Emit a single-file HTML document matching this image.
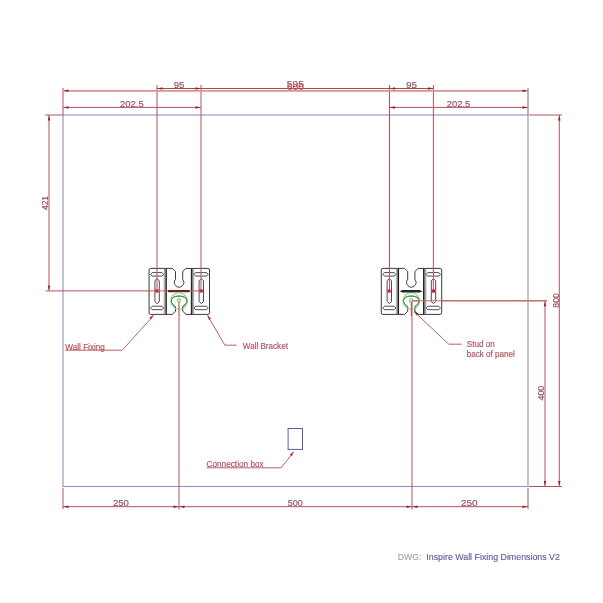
<!DOCTYPE html>
<html><head><meta charset="utf-8"><style>
html,body{margin:0;padding:0;background:#fff;width:603px;height:603px;overflow:hidden}
svg{display:block;will-change:transform}
text{font-family:"Liberation Sans",sans-serif}
</style></head><body>
<svg width="603" height="603" viewBox="0 0 603 603">
<defs><linearGradient id="gl" x1="0" x2="1" y1="0" y2="0"><stop offset="0" stop-color="#e0e0e0"/><stop offset="1" stop-color="#6a6a6a"/></linearGradient><linearGradient id="gr" x1="0" x2="1" y1="0" y2="0"><stop offset="0" stop-color="#6a6a6a"/><stop offset="1" stop-color="#e0e0e0"/></linearGradient></defs>
<rect x="63" y="115" width="465" height="371.5" fill="none" stroke="#9290bc" stroke-width="1.1"/>
<line x1="63" y1="88" x2="63" y2="115" stroke="#b4525a" stroke-width="1"/>
<line x1="528" y1="88" x2="528" y2="115" stroke="#b4525a" stroke-width="1"/>
<line x1="157" y1="85" x2="157" y2="291" stroke="#b4525a" stroke-width="1"/>
<line x1="201" y1="85" x2="201" y2="291" stroke="#b4525a" stroke-width="1"/>
<line x1="389.5" y1="85" x2="389.5" y2="291" stroke="#b4525a" stroke-width="1"/>
<line x1="433.4" y1="85" x2="433.4" y2="291" stroke="#b4525a" stroke-width="1"/>
<line x1="63" y1="90.9" x2="528" y2="90.9" stroke="#d49494" stroke-width="1.9"/>
<polygon points="63.50,90.80 68.50,89.55 68.50,92.05" fill="#8e2232"/>
<polygon points="527.50,90.80 522.50,89.55 522.50,92.05" fill="#8e2232"/>
<line x1="157" y1="88.5" x2="433.4" y2="88.5" stroke="#a84850" stroke-width="1"/>
<polygon points="157.50,88.50 162.50,87.25 162.50,89.75" fill="#8e2232"/>
<polygon points="200.50,88.50 195.50,87.25 195.50,89.75" fill="#8e2232"/>
<polygon points="390.00,88.50 395.00,87.25 395.00,89.75" fill="#8e2232"/>
<polygon points="433.00,88.50 428.00,87.25 428.00,89.75" fill="#8e2232"/>
<line x1="63" y1="107.4" x2="201" y2="107.4" stroke="#b4525a" stroke-width="1"/>
<polygon points="63.50,107.40 68.50,106.15 68.50,108.65" fill="#8e2232"/>
<polygon points="200.50,107.40 195.50,106.15 195.50,108.65" fill="#8e2232"/>
<line x1="389.5" y1="107.4" x2="528" y2="107.4" stroke="#b4525a" stroke-width="1"/>
<polygon points="390.00,107.40 395.00,106.15 395.00,108.65" fill="#8e2232"/>
<polygon points="527.50,107.40 522.50,106.15 522.50,108.65" fill="#8e2232"/>
<text x="173.8" y="87.6" font-size="9.6" fill="#985060" text-anchor="start" stroke="#985060" stroke-width="0.18" textLength="10.6" lengthAdjust="spacingAndGlyphs">95</text>
<text x="406" y="87.6" font-size="9.6" fill="#985060" text-anchor="start" stroke="#985060" stroke-width="0.18" textLength="11" lengthAdjust="spacingAndGlyphs">95</text>
<text x="286.8" y="87.4" font-size="9.6" fill="#985060" text-anchor="start" stroke="#985060" stroke-width="0.18" textLength="17.2" lengthAdjust="spacingAndGlyphs">595</text>
<text x="287" y="89.5" font-size="9.6" fill="#c05060" text-anchor="start" stroke="#c05060" stroke-width="0.18" textLength="16.8" lengthAdjust="spacingAndGlyphs">600</text>
<text x="119.9" y="106.8" font-size="9.6" fill="#985060" text-anchor="start" stroke="#985060" stroke-width="0.18" textLength="23.9" lengthAdjust="spacingAndGlyphs">202.5</text>
<text x="446.7" y="106.8" font-size="9.6" fill="#985060" text-anchor="start" stroke="#985060" stroke-width="0.18" textLength="23.6" lengthAdjust="spacingAndGlyphs">202.5</text>
<line x1="45.3" y1="115" x2="63" y2="115" stroke="#b4525a" stroke-width="1"/>
<line x1="45.8" y1="290.9" x2="201" y2="290.9" stroke="#b4525a" stroke-width="1"/>
<line x1="49" y1="115" x2="49" y2="290.9" stroke="#b4525a" stroke-width="1"/>
<polygon points="49.00,115.50 47.75,120.50 50.25,120.50" fill="#8e2232"/>
<polygon points="49.00,290.40 47.75,285.40 50.25,285.40" fill="#8e2232"/>
<text x="48.4" y="203" font-size="9.6" fill="#985060" text-anchor="middle" stroke="#985060" stroke-width="0.18" textLength="14.1" lengthAdjust="spacingAndGlyphs" transform="rotate(-90 48.4 203)">421</text>
<line x1="63" y1="488" x2="63" y2="509" stroke="#b4525a" stroke-width="1"/>
<line x1="528" y1="488" x2="528" y2="509" stroke="#b4525a" stroke-width="1"/>
<line x1="179" y1="302" x2="179" y2="509.5" stroke="#b4525a" stroke-width="1"/>
<line x1="412" y1="301" x2="412" y2="509.5" stroke="#b4525a" stroke-width="1"/>
<line x1="63" y1="506.7" x2="528" y2="506.7" stroke="#b4525a" stroke-width="1"/>
<polygon points="63.50,506.70 68.50,505.45 68.50,507.95" fill="#8e2232"/>
<polygon points="178.50,506.70 173.50,505.45 173.50,507.95" fill="#8e2232"/>
<polygon points="179.50,506.70 184.50,505.45 184.50,507.95" fill="#8e2232"/>
<polygon points="411.50,506.70 406.50,505.45 406.50,507.95" fill="#8e2232"/>
<polygon points="412.50,506.70 417.50,505.45 417.50,507.95" fill="#8e2232"/>
<polygon points="527.50,506.70 522.50,505.45 522.50,507.95" fill="#8e2232"/>
<text x="112.9" y="505.9" font-size="9.6" fill="#985060" text-anchor="start" stroke="#985060" stroke-width="0.18" textLength="16.1" lengthAdjust="spacingAndGlyphs">250</text>
<text x="287.7" y="506.2" font-size="9.6" fill="#985060" text-anchor="start" stroke="#985060" stroke-width="0.18" textLength="15.1" lengthAdjust="spacingAndGlyphs">500</text>
<text x="460.9" y="505.9" font-size="9.6" fill="#985060" text-anchor="start" stroke="#985060" stroke-width="0.18" textLength="16.7" lengthAdjust="spacingAndGlyphs">250</text>
<line x1="529" y1="115" x2="562" y2="115" stroke="#b4525a" stroke-width="1"/>
<line x1="529" y1="486.5" x2="562" y2="486.5" stroke="#b4525a" stroke-width="1"/>
<line x1="412" y1="300.8" x2="547" y2="300.8" stroke="#b4525a" stroke-width="1"/>
<line x1="545" y1="300.8" x2="545" y2="486.5" stroke="#b4525a" stroke-width="1"/>
<line x1="559.3" y1="115" x2="559.3" y2="486.5" stroke="#b4525a" stroke-width="1"/>
<polygon points="559.30,115.50 558.05,120.50 560.55,120.50" fill="#8e2232"/>
<polygon points="559.30,486.00 558.05,481.00 560.55,481.00" fill="#8e2232"/>
<polygon points="545.00,301.30 543.75,306.30 546.25,306.30" fill="#8e2232"/>
<polygon points="545.00,486.00 543.75,481.00 546.25,481.00" fill="#8e2232"/>
<text x="558.6" y="300.4" font-size="9.6" fill="#985060" text-anchor="middle" stroke="#985060" stroke-width="0.18" textLength="14.6" lengthAdjust="spacingAndGlyphs" transform="rotate(-90 558.6 300.4)">800</text>
<text x="543.8" y="393.1" font-size="9.6" fill="#985060" text-anchor="middle" stroke="#985060" stroke-width="0.18" textLength="14.9" lengthAdjust="spacingAndGlyphs" transform="rotate(-90 543.8 393.1)">400</text>
<g><path d="M150.7,268.4 L172.3,268.4 L175.5,271.4 L175.5,279.4 A4.8,4.6 0 1 0 182.7,279.4 L182.7,271.4 L186,268.4 L208,268.4 Q209.5,268.4 209.5,270 L209.5,312.7 Q209.5,314.4 208,314.4 L186,314.4 L182.7,311.2 L182.7,306.5 C183.6,305.8 184.4,305.5 185,304.6 C186.3,303.2 186.9,302.3 186.9,301 C186.9,297.8 183.4,296.1 179.1,296.1 C174.8,296.1 171.3,297.8 171.3,301 C171.3,302.3 171.9,303.2 173.2,304.6 C173.8,305.5 174.6,305.8 175.5,306.5 L175.5,311.2 L172.5,314.4 L150.7,314.4 Q149.1,314.4 149.1,312.8 L149.1,270 Q149.1,268.4 150.7,268.4 Z" fill="#fff" stroke="#3a3a3a" stroke-width="1"/><rect x="163.4" y="268.9" width="2.4" height="45" fill="url(#gl)"/><line x1="166.3" y1="268.4" x2="166.3" y2="314.4" stroke="#1a1a1a" stroke-width="1.1"/><rect x="191.9" y="268.9" width="2.6" height="45" fill="url(#gr)"/><line x1="191.4" y1="268.4" x2="191.4" y2="314.4" stroke="#1a1a1a" stroke-width="1.1"/><path d="M150.6,274.4 L152.2,272.6 L162.0,272.6 L163.6,274.4 L162.0,276.1 L152.2,276.1 Z" fill="#fff" stroke="#3a3a3a" stroke-width="0.9" stroke-linejoin="round"/><path d="M150.6,307.9 L152.2,306.2 L162.0,306.2 L163.6,307.9 L162.0,309.7 L152.2,309.7 Z" fill="#fff" stroke="#3a3a3a" stroke-width="0.9" stroke-linejoin="round"/><path d="M194.0,274.4 L195.6,272.6 L206.6,272.6 L208.2,274.4 L206.6,276.1 L195.6,276.1 Z" fill="#fff" stroke="#3a3a3a" stroke-width="0.9" stroke-linejoin="round"/><path d="M194.0,307.9 L195.6,306.2 L206.6,306.2 L208.2,307.9 L206.6,309.7 L195.6,309.7 Z" fill="#fff" stroke="#3a3a3a" stroke-width="0.9" stroke-linejoin="round"/><path d="M157.1,278.8 L159.3,280.6 L159.3,301.7 L157.1,303.5 L154.9,301.7 L154.9,280.6 Z" fill="#fff" stroke="#3a3a3a" stroke-width="0.9" stroke-linejoin="round"/><path d="M201.3,278.8 L203.5,280.6 L203.5,301.7 L201.3,303.5 L199.1,301.7 L199.1,280.6 Z" fill="#fff" stroke="#3a3a3a" stroke-width="0.9" stroke-linejoin="round"/></g>
<g transform="translate(232.2,0)"><path d="M150.7,268.4 L172.3,268.4 L175.5,271.4 L175.5,279.4 A4.8,4.6 0 1 0 182.7,279.4 L182.7,271.4 L186,268.4 L208,268.4 Q209.5,268.4 209.5,270 L209.5,312.7 Q209.5,314.4 208,314.4 L186,314.4 L182.7,311.2 L182.7,306.5 C183.6,305.8 184.4,305.5 185,304.6 C186.3,303.2 186.9,302.3 186.9,301 C186.9,297.8 183.4,296.1 179.1,296.1 C174.8,296.1 171.3,297.8 171.3,301 C171.3,302.3 171.9,303.2 173.2,304.6 C173.8,305.5 174.6,305.8 175.5,306.5 L175.5,311.2 L172.5,314.4 L150.7,314.4 Q149.1,314.4 149.1,312.8 L149.1,270 Q149.1,268.4 150.7,268.4 Z" fill="#fff" stroke="#3a3a3a" stroke-width="1"/><rect x="163.4" y="268.9" width="2.4" height="45" fill="url(#gl)"/><line x1="166.3" y1="268.4" x2="166.3" y2="314.4" stroke="#1a1a1a" stroke-width="1.1"/><rect x="191.9" y="268.9" width="2.6" height="45" fill="url(#gr)"/><line x1="191.4" y1="268.4" x2="191.4" y2="314.4" stroke="#1a1a1a" stroke-width="1.1"/><path d="M150.6,274.4 L152.2,272.6 L162.0,272.6 L163.6,274.4 L162.0,276.1 L152.2,276.1 Z" fill="#fff" stroke="#3a3a3a" stroke-width="0.9" stroke-linejoin="round"/><path d="M150.6,307.9 L152.2,306.2 L162.0,306.2 L163.6,307.9 L162.0,309.7 L152.2,309.7 Z" fill="#fff" stroke="#3a3a3a" stroke-width="0.9" stroke-linejoin="round"/><path d="M194.0,274.4 L195.6,272.6 L206.6,272.6 L208.2,274.4 L206.6,276.1 L195.6,276.1 Z" fill="#fff" stroke="#3a3a3a" stroke-width="0.9" stroke-linejoin="round"/><path d="M194.0,307.9 L195.6,306.2 L206.6,306.2 L208.2,307.9 L206.6,309.7 L195.6,309.7 Z" fill="#fff" stroke="#3a3a3a" stroke-width="0.9" stroke-linejoin="round"/><path d="M157.1,278.8 L159.3,280.6 L159.3,301.7 L157.1,303.5 L154.9,301.7 L154.9,280.6 Z" fill="#fff" stroke="#3a3a3a" stroke-width="0.9" stroke-linejoin="round"/><path d="M201.3,278.8 L203.5,280.6 L203.5,301.7 L201.3,303.5 L199.1,301.7 L199.1,280.6 Z" fill="#fff" stroke="#3a3a3a" stroke-width="0.9" stroke-linejoin="round"/></g>
<line x1="157" y1="268" x2="157" y2="291" stroke="#c05a6a" stroke-width="1.1"/>
<line x1="201" y1="268" x2="201" y2="291" stroke="#c05a6a" stroke-width="1.1"/>
<line x1="149" y1="290.9" x2="201" y2="290.9" stroke="#c85a68" stroke-width="1"/>
<rect x="155.3" y="289.4" width="3.2" height="3.2" fill="#d82030"/>
<rect x="199.6" y="289.4" width="3.2" height="3.2" fill="#d82030"/>
<rect x="167.8" y="290" width="22" height="2.3" rx="1.1" fill="#6e2222"/>
<circle cx="179.1" cy="301" r="8.2" fill="none" stroke="#7ed07e" stroke-width="1.1"/>
<path d="M175.5,306.6 C173,305 171.3,303.5 171.3,301 C171.3,297.8 174.8,296.1 179.1,296.1 C183.4,296.1 186.9,297.8 186.9,301 C186.9,303.5 185.2,305 182.7,306.6" fill="none" stroke="#40a840" stroke-width="1"/>
<circle cx="179" cy="300.4" r="1.7" fill="none" stroke="#3c9a3c" stroke-width="0.8"/>
<line x1="179" y1="302" x2="179" y2="316" stroke="#d89090" stroke-width="1.2"/>
<g transform="translate(232.2,0)">
<circle cx="179.1" cy="301" r="8.2" fill="none" stroke="#7ed07e" stroke-width="1.1"/>
<path d="M175.5,306.6 C173,305 171.3,303.5 171.3,301 C171.3,297.8 174.8,296.1 179.1,296.1 C183.4,296.1 186.9,297.8 186.9,301 C186.9,303.5 185.2,305 182.7,306.6" fill="none" stroke="#40a840" stroke-width="1"/>
</g>
<line x1="389.5" y1="268" x2="389.5" y2="291" stroke="#c05a6a" stroke-width="1.1"/>
<line x1="433.4" y1="268" x2="433.4" y2="291" stroke="#c05a6a" stroke-width="1.1"/>
<rect x="387.5" y="289.5" width="3.2" height="3.2" fill="#d82030"/>
<rect x="431.8" y="289.5" width="3.2" height="3.2" fill="#d82030"/>
<polygon points="399.5,291.3 402.5,289.9 419.5,289.9 422.6,291.3 419.5,292.6 402.5,292.6" fill="#1e2a1e"/>
<circle cx="411.2" cy="300.4" r="1.7" fill="none" stroke="#3c9a3c" stroke-width="0.8"/>
<line x1="413" y1="300.8" x2="547" y2="300.8" stroke="#c46a6a" stroke-width="1"/>
<line x1="411.4" y1="302" x2="411.4" y2="316" stroke="#b06060" stroke-width="1.2"/>
<text x="65.3" y="349.6" font-size="8.6" fill="#b04e5c" text-anchor="start" stroke="#b04e5c" stroke-width="0.15" textLength="39.6" lengthAdjust="spacingAndGlyphs">Wall Fixing</text>
<line x1="65.3" y1="350.2" x2="122.2" y2="350.2" stroke="#b04e5c" stroke-width="0.9"/>
<line x1="122.2" y1="350.2" x2="153.7" y2="315.5" stroke="#b04e5c" stroke-width="0.9"/>
<polygon points="153.60,314.80 149.38,317.74 151.18,319.34" fill="#a03040"/>
<line x1="207.5" y1="315.5" x2="224.9" y2="345.2" stroke="#b04e5c" stroke-width="0.9"/>
<line x1="224.9" y1="345.2" x2="236.5" y2="345.2" stroke="#b04e5c" stroke-width="0.9"/>
<polygon points="207.50,315.00 208.96,319.93 211.04,318.73" fill="#a03040"/>
<text x="242.8" y="349" font-size="8.6" fill="#b04e5c" text-anchor="start" stroke="#b04e5c" stroke-width="0.15" textLength="45.1" lengthAdjust="spacingAndGlyphs">Wall Bracket</text>
<line x1="414" y1="311.5" x2="448.8" y2="344.2" stroke="#b04e5c" stroke-width="0.9"/>
<line x1="448.8" y1="344.2" x2="461.7" y2="344.2" stroke="#b04e5c" stroke-width="0.9"/>
<polygon points="414.00,311.30 416.81,315.61 418.46,313.86" fill="#8a2a3a"/>
<text x="466.7" y="347.4" font-size="8.6" fill="#b04e5c" text-anchor="start" stroke="#b04e5c" stroke-width="0.15" textLength="28.2" lengthAdjust="spacingAndGlyphs">Stud on</text>
<text x="466.7" y="357.3" font-size="8.6" fill="#b04e5c" text-anchor="start" stroke="#b04e5c" stroke-width="0.15" textLength="48.2" lengthAdjust="spacingAndGlyphs">back of panel</text>
<rect x="288.1" y="428.5" width="14.4" height="20.9" fill="none" stroke="#5a5aa8" stroke-width="1"/>
<text x="206.5" y="467.4" font-size="8.6" fill="#b04e5c" text-anchor="start" stroke="#b04e5c" stroke-width="0.15" textLength="57.2" lengthAdjust="spacingAndGlyphs">Connection box</text>
<line x1="206.5" y1="467.8" x2="281" y2="467.8" stroke="#b04e5c" stroke-width="0.9"/>
<line x1="281" y1="467.8" x2="293.9" y2="451.8" stroke="#b04e5c" stroke-width="0.9"/>
<polygon points="293.90,451.60 289.85,454.76 291.72,456.26" fill="#a03040"/>
<text x="397.8" y="559.9" font-size="9.4" fill="#a0a0a8" text-anchor="start" stroke="#a0a0a8" stroke-width="0.12" textLength="23.5" lengthAdjust="spacingAndGlyphs">DWG:</text>
<text x="426.3" y="559.9" font-size="9.4" fill="#5a5a98" text-anchor="start" stroke="#5a5a98" stroke-width="0.12" textLength="133.6" lengthAdjust="spacingAndGlyphs">Inspire Wall Fixing Dimensions V2</text>
</svg>
</body></html>
